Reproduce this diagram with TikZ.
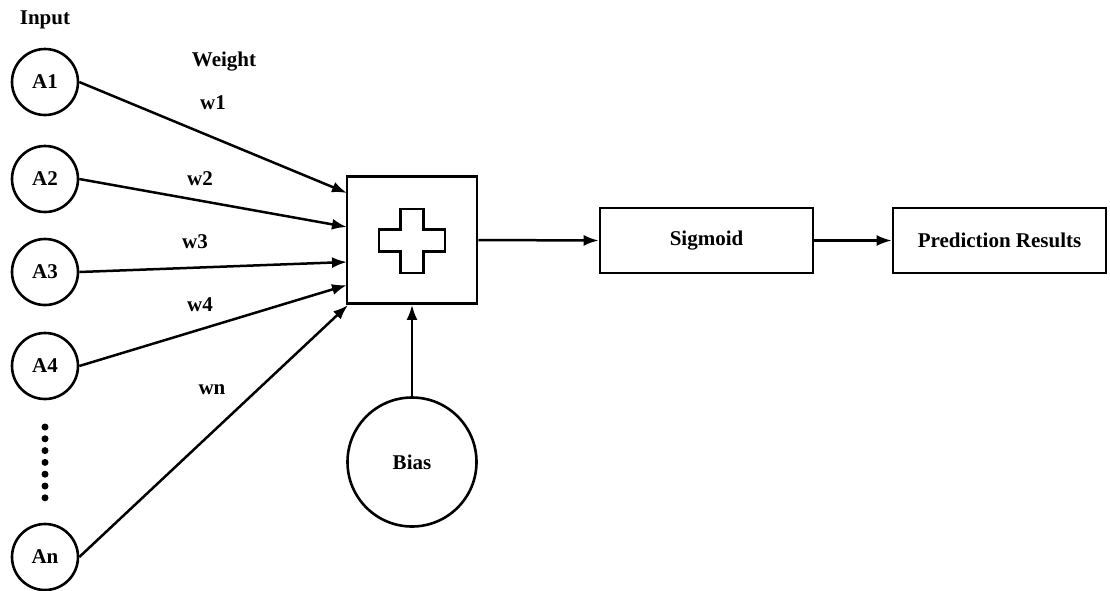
\documentclass[tikz,border=0pt]{standalone}
\usepackage{fontspec}
\setmainfont{Liberation Serif}
\usetikzlibrary{arrows.meta}
\tikzset{
  every node/.style={font=\fontsize{21}{25}\selectfont\bfseries},
  inp/.style={draw, circle, line width=2.6pt, minimum size=66pt, inner sep=0pt},
  box/.style={draw, rectangle, line width=2.6pt, inner sep=0pt},
  conn/.style={line width=2.5pt, -{Latex[length=15pt,width=11pt]}},
  lbl/.style={inner sep=0pt},
  dot/.style={circle, fill=black, inner sep=0pt, minimum size=7pt}
}
\begin{document}
\begin{tikzpicture}[x=1pt,y=-1pt]
\useasboundingbox (0,0) rectangle (1110,590);
\node[lbl] (input) at (45,20) {Input};
\node[lbl] (weight) at (224,62) {Weight};
\node[inp] (A1) at (45,82) {A1};
\node[inp] (A2) at (45,179) {A2};
\node[inp] (A3) at (45,272) {A3};
\node[inp] (A4) at (45,366) {A4};
\node[inp] (An) at (45,557) {An};
\foreach \i in {0,...,6} { \node[dot] (d\i) at (45,{427+\i*11.8}) {}; }
\node[lbl] (w1) at (213,103) {w1};
\node[lbl] (w2) at (200,179) {w2};
\node[lbl] (w3) at (195,242) {w3};
\node[lbl] (w4) at (200,305) {w4};
\node[lbl] (wn) at (212,390) {wn};
\node[box, minimum width=130pt, minimum height=127pt] (sum) at (412,240) {};
\draw[line width=2.6pt] (400.5,209) -- (423.5,209) -- (423.5,229.5) -- (445,229.5) -- (445,251.5) -- (423.5,251.5) -- (423.5,273) -- (400.5,273) -- (400.5,251.5) -- (379,251.5) -- (379,229.5) -- (400.5,229.5) -- cycle;
\node[box, minimum width=213pt, minimum height=65pt] (sig) at (706.5,240.5) {Sigmoid};
\node[box, minimum width=213pt, minimum height=65pt] (pr) at (999.5,240.5) {Prediction Results};
\node[inp, minimum size=129pt] (bias) at (412,462) {Bias};
\coordinate (in1) at (347,193);
\coordinate (in2) at (347,227);
\coordinate (in3) at (347,262);
\coordinate (in4) at (347,285);
\coordinate (in5) at (348,305);
\draw[conn] (A1.east) -- (in1);
\draw[conn] (A2.east) -- (in2);
\draw[conn] (A3.east) -- (in3);
\draw[conn] (A4.east) -- (in4);
\draw[conn] (An.east) -- (in5);
\draw[conn] (bias.north) -- (sum.south);
\draw[conn] (sum.east) -- (sig.west);
\draw[conn] (sig.east) -- (pr.west);
\end{tikzpicture}
\end{document}
